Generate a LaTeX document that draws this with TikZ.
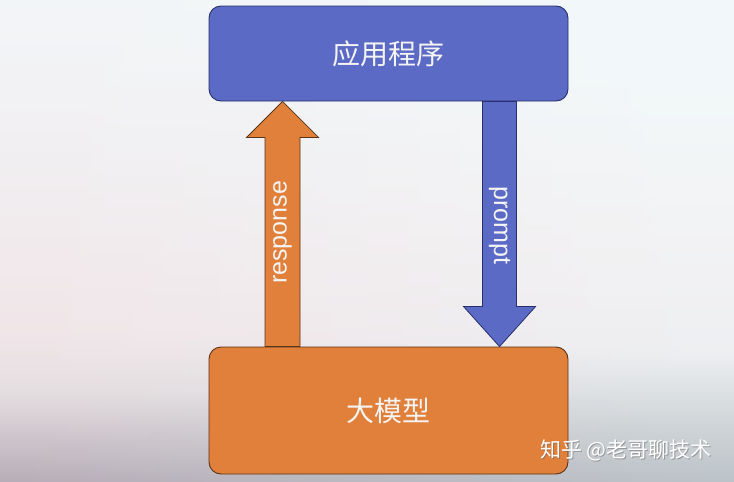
\documentclass[tikz,border=0pt]{standalone}
\usepackage{fontspec}
\setsansfont{Liberation Sans}
\newfontfamily\cjk{Noto Sans CJK SC}
\usetikzlibrary{calc,fadings}
\definecolor{boxblue}{HTML}{5B6AC4}
\definecolor{boxorange}{HTML}{E0803A}
\definecolor{edgeblue}{HTML}{27306A}
\definecolor{edgeorange}{HTML}{5A3418}
\definecolor{txtwhite}{HTML}{F4F4F4}
\pgfdeclareverticalshading{bgleft}{100bp}{
  rgb(0bp)=(0.72,0.68,0.72);
  rgb(25bp)=(0.72,0.68,0.72);
  rgb(29.15bp)=(0.80,0.76,0.79);
  rgb(34.34bp)=(0.90,0.87,0.88);
  rgb(40.56bp)=(0.945,0.90,0.91);
  rgb(56.1bp)=(0.945,0.93,0.94);
  rgb(70.6bp)=(0.95,0.955,0.965);
  rgb(75bp)=(0.95,0.96,0.97);
  rgb(100bp)=(0.95,0.96,0.97)}
\pgfdeclareverticalshading{bgright}{100bp}{
  rgb(0bp)=(0.74,0.77,0.79);
  rgb(25bp)=(0.74,0.77,0.79);
  rgb(30.2bp)=(0.80,0.83,0.84);
  rgb(38.5bp)=(0.93,0.94,0.95);
  rgb(50.9bp)=(0.955,0.955,0.96);
  rgb(66.5bp)=(0.95,0.975,0.98);
  rgb(75bp)=(0.95,0.975,0.98);
  rgb(100bp)=(0.95,0.975,0.98)}
\tikzfading[name=fadeleft, left color=transparent!100, right color=transparent!0]
\tikzset{
  box/.style={rounded corners=12pt, line width=0.9pt, minimum width=359pt, inner sep=0pt,
              font=\cjk\fontsize{28}{32}\selectfont, text=txtwhite},
  bluebox/.style={box, fill=boxblue, draw=edgeblue, minimum height=95pt},
  orangebox/.style={box, fill=boxorange, draw=edgeorange, minimum height=127pt},
  uparrow/.style={fill=boxorange, draw=edgeorange, line width=0.8pt, line join=miter},
  downarrow/.style={fill=boxblue, draw=edgeblue, line width=0.8pt, line join=miter},
  arrowlabel/.style={font=\sffamily\fontsize{25}{28}\selectfont, text=txtwhite, inner sep=0pt},
  watermark/.style={font=\cjk\fontsize{21}{24}\selectfont, text=white, inner sep=0pt}
}
\begin{document}
\begin{tikzpicture}[x=1pt,y=-1pt]
\useasboundingbox (0,0) rectangle (734,482);
\shade[shading=bgleft] (0,0) rectangle (734,482);
\shade[shading=bgright, path fading=fadeleft] (0,0) rectangle (734,482);
\node[bluebox] (app) at (388.5,53.5) {应用程序};
\node[orangebox] (llm) at (388.5,410.5) {大模型};
% anchors for arrows
\path (app.south west) ++(74,0) coordinate (rtip);
\path (llm.north west) ++(74,0) coordinate (rbase);
\path (app.south west) ++(291,0) coordinate (pbase);
\path (llm.north west) ++(291,0) coordinate (ptip);
% response arrow (up)
\draw[uparrow] ($(rbase)+(-17.5,0)$) -- ($(rtip)+(-17.5,36)$) -- ($(rtip)+(-36,36)$) -- (rtip)
  -- ($(rtip)+(36,36)$) -- ($(rtip)+(17.5,36)$) -- ($(rbase)+(17.5,0)$) -- cycle;
% prompt arrow (down)
\draw[downarrow] ($(pbase)+(-17,0)$) -- ($(ptip)+(-17,-40)$) -- ($(ptip)+(-36,-40)$) -- (ptip)
  -- ($(ptip)+(36,-40)$) -- ($(ptip)+(17,-40)$) -- ($(pbase)+(17,0)$) -- cycle;
\node[arrowlabel, rotate=90] (resp) at ($(rtip)+(0,131)$) {response};
\node[arrowlabel, rotate=-90] (prm) at ($(pbase)+(0,124)$) {prompt};
\node[watermark, text=black!60, opacity=0.5] at (627,451) {知乎 @老哥聊技术};
\node[watermark] (wm) at (626,450) {知乎 @老哥聊技术};
\end{tikzpicture}
\end{document}
